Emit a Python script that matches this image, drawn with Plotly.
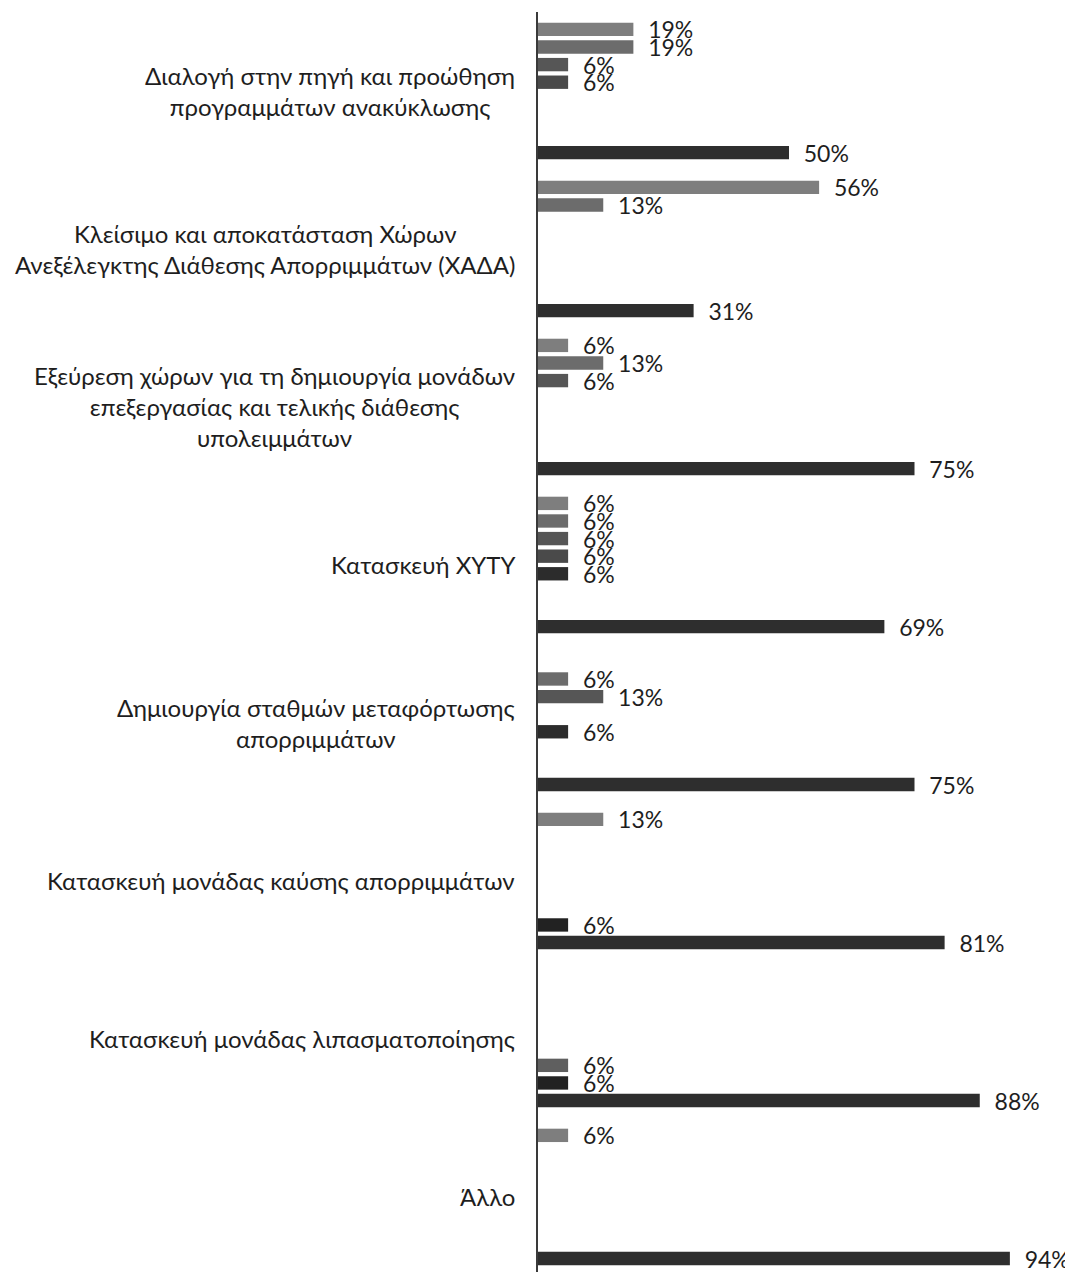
import plotly.graph_objects as go

categories = [
    "Διαλογή στην πηγή και προώθηση<br>προγραμμάτων ανακύκλωσης",
    "Κλείσιμο και αποκατάσταση Χώρων<br>Ανεξέλεγκτης Διάθεσης Απορριμμάτων (ΧΑΔΑ)",
    "Εξεύρεση χώρων για τη δημιουργία μονάδων<br>επεξεργασίας και τελικής διάθεσης<br>υπολειμμάτων",
    "Κατασκευή ΧΥΤΥ",
    "Δημιουργία σταθμών μεταφόρτωσης<br>απορριμμάτων",
    "Κατασκευή μονάδας καύσης απορριμμάτων",
    "Κατασκευή μονάδας λιπασματοποίησης",
    "Άλλο",
]

series_names = ["Σειρά 1", "Σειρά 2", "Σειρά 3", "Σειρά 4",
                "Σειρά 5", "Σειρά 6", "Σειρά 7", "Σειρά 8"]

s1 = [19, 56, 6, 6, None, 13, None, 6]
s2 = [19, 13, 13, 6, 6, None, None, None]
s3 = [6, None, 6, 6, 13, None, None, None]
s4 = [6, None, None, 6, None, None, None, None]
s5 = [None, None, None, 6, 6, None, None, None]
s6 = [None, None, None, None, None, None, 6, None]
s7 = [None, None, None, None, None, 6, 6, None]
s8 = [50, 31, 75, 69, 75, 81, 88, 94]

series_values = [s1, s2, s3, s4, s5, s6, s7, s8]
colors = ["#7e7e7e", "#6c6c6c", "#565656", "#4a4a4a",
          "#2c2c2c", "#5f5f5f", "#222222", "#2e2e2e"]

FONT = "Lato, 'Open Sans', sans-serif"
TXT = "#1e1e1e"

ypos = list(range(len(categories)))

fig = go.Figure()
for name, vals, col in zip(series_names, series_values, colors):
    fig.add_trace(go.Bar(
        y=ypos, x=vals, orientation="h", name=name,
        marker=dict(color=col, line=dict(width=0)),
        text=[("\u00a0\u00a0%d%%" % v) if v is not None else "" for v in vals],
        textposition="outside", constraintext="none", cliponaxis=False,
        textfont=dict(family=FONT, size=23, color=TXT),
        showlegend=False,
    ))

for i, c in enumerate(categories):
    fig.add_annotation(
        x=0, xref="paper", y=i, yref="y", text=c, showarrow=False,
        xanchor="right", yanchor="middle", align="center", xshift=-21,
        font=dict(family=FONT, size=24, color=TXT),
    )

# page body has an 8px default margin: compensate so the chart sits like the reference
fig.update_layout(
    width=1065, height=1264,
    margin=dict(l=530, r=33, t=4, b=0),
    barmode="group", bargap=0.109, bargroupgap=0.24,
    plot_bgcolor="white", paper_bgcolor="white",
    xaxis=dict(range=[0, 100], showgrid=False, zeroline=False,
               showticklabels=False, showline=False, ticks=""),
    yaxis=dict(range=[7.475, -0.5], showgrid=False, zeroline=False,
               showticklabels=False, ticks="", showline=True,
               linecolor="#3a3a3a", linewidth=2),
)

fig.write_html("out.html")
